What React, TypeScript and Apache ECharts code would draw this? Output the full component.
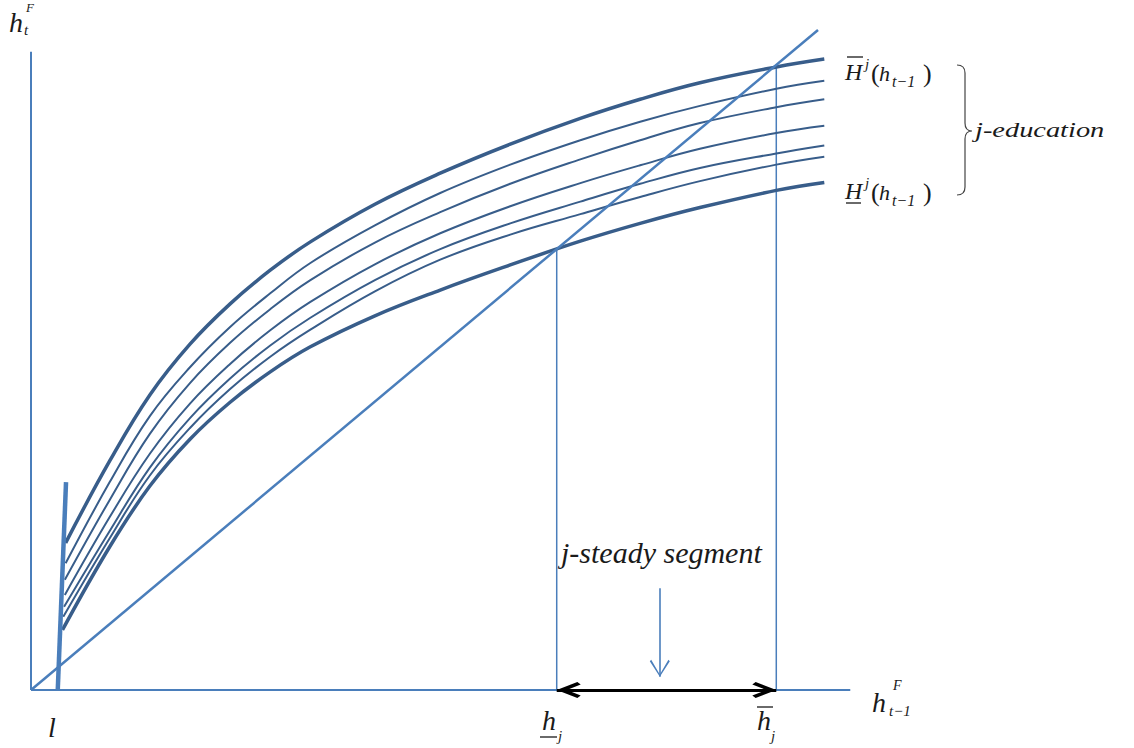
import React, { useEffect, useRef } from "react";
import * as echarts from "echarts";

// ---- data (abstract units; 45° line is y = x) ----
const curveXs = [1.0, 1.51, 2.02, 2.53, 3.04, 3.55, 4.37, 5.2, 6.09, 6.98, 7.74, 8.5, 9.47, 10.08];
const startXs = [0.44, 0.44, 0.43, 0.43, 0.42, 0.41, 0.4];
const startYs = [2.23, 1.92, 1.67, 1.44, 1.26, 1.11, 0.91];
const curveUpper = [3.47, 4.47, 5.24, 5.85, 6.36, 6.79, 7.36, 7.83, 8.27, 8.66, 8.95, 9.2, 9.44, 9.56];
const curve2 = [3.15, 4.15, 4.89, 5.5, 6.01, 6.47, 7.04, 7.53, 7.96, 8.33, 8.61, 8.85, 9.11, 9.23];
const curve3 = [2.88, 3.88, 4.65, 5.26, 5.77, 6.21, 6.78, 7.24, 7.67, 8.04, 8.33, 8.59, 8.83, 8.95];
const curve4 = [2.62, 3.58, 4.34, 4.94, 5.45, 5.88, 6.45, 6.92, 7.33, 7.68, 7.95, 8.2, 8.44, 8.55];
const curve5 = [2.41, 3.37, 4.12, 4.72, 5.22, 5.64, 6.21, 6.68, 7.07, 7.4, 7.67, 7.91, 8.13, 8.25];
const curve6 = [2.3, 3.25, 3.97, 4.56, 5.05, 5.46, 6.04, 6.52, 6.9, 7.21, 7.47, 7.71, 7.96, 8.08];
const curveLower = [2.17, 3.09, 3.8, 4.36, 4.82, 5.2, 5.67, 6.06, 6.44, 6.8, 7.07, 7.31, 7.57, 7.69];
const allCurves = [curveUpper, curve2, curve3, curve4, curve5, curve6, curveLower];

const diagonalEnd = 10;
const yAxisTop = 9.67;
const xAxisEnd = 10.41;
const barrierBottom = [0.34, 0];
const barrierTop = [0.445, 3.15];
const hLow = 6.68; // lower steady state
const hHigh = 9.47; // upper steady state
const hHighY = 9.44;
const pointerX = 7.99;
const pointerFrom = 1.54;
const pointerTo = 0.2;

const LINE_BLUE = "#4a7ebb";
const CURVE_BLUE = "#385d8a";
const INK = "#1a1a1a";
const SERIF = "Liberation Serif, Times New Roman, serif";

const BRACE_D =
  "M0,0 C5,0 8,2 8,8 L8,58 C8,63 10,66 15,66 C10,66 8,69 8,74 L8,122 C8,128 5,130 0,130";
let braceRegistered = false;
function ensureBrace() {
  if (braceRegistered) return;
  const Brace = (echarts.graphic as any).extendPath(BRACE_D, {});
  (echarts.graphic as any).registerShape("brace", Brace);
  braceRegistered = true;
}

function seg(data: number[][], color: string, width: number, z = 2, smooth: any = false) {
  return {
    type: "line",
    data,
    showSymbol: false,
    symbol: "none",
    clip: false,
    silent: true,
    smooth,
    lineStyle: { color, width, cap: "butt" },
    z,
  };
}

function txt(text: string, x: number, base: number, size: number, italic = true, extra: any = {}) {
  return {
    type: "text",
    x,
    y: base - 0.34 * size,
    silent: true,
    style: {
      text,
      font: `${italic ? "italic" : "normal"} ${size}px ${SERIF}`,
      fill: INK,
      align: "left",
      verticalAlign: "middle",
    },
    ...extra,
  };
}

function bar(x1: number, x2: number, y: number) {
  return {
    type: "line",
    silent: true,
    shape: { x1, y1: y, x2, y2: y },
    style: { stroke: INK, lineWidth: 1.3 },
  };
}

const CHEVRON_BOLD = "path://M50,0 L100,86 L85,100 L50,42 L15,100 L0,86 Z";
const CHEVRON_THIN = "path://M50,0 L100,92 L93,100 L50,14 L7,100 L0,92 Z";

export default function App() {
  const ref = useRef<HTMLDivElement>(null);

  useEffect(() => {
    document.body.style.margin = "0";
    ensureBrace();
    const chart = echarts.init(ref.current!, null, { renderer: "svg" });

    const series: any[] = [];
    series.push(seg([[0, 0], [0, yAxisTop]], LINE_BLUE, 2, 1));
    series.push(seg([[0, 0], [xAxisEnd, 0]], LINE_BLUE, 2, 1));
    series.push(seg([[0, 0], [diagonalEnd, diagonalEnd]], LINE_BLUE, 2.5, 3));
    series.push(seg([[hLow, 0], [hLow, hLow]], LINE_BLUE, 1.5, 1));
    series.push(seg([[hHigh, 0], [hHigh, hHighY]], LINE_BLUE, 1.5, 1));
    series.push(seg([barrierBottom, barrierTop], LINE_BLUE, 4.5, 4));
    allCurves.forEach((vals, i) => {
      const thick = i === 0 || i === allCurves.length - 1;
      const data = [[startXs[i], startYs[i]], ...curveXs.map((x, j) => [x, vals[j]])];
      series.push(seg(data, CURVE_BLUE, thick ? 3.5 : 2, 2, 0.4));
    });
    // double arrow (steady segment)
    series.push({
      type: "line",
      data: [],
      silent: true,
      z: 6,
      markLine: {
        silent: true,
        animation: false,
        label: { show: false },
        lineStyle: { color: "#000", width: 3, type: "solid" },
        data: [
          [
            { coord: [hLow, 0], symbol: CHEVRON_BOLD, symbolSize: [16, 24], symbolOffset: [0, 12] },
            { coord: [hHigh, 0], symbol: CHEVRON_BOLD, symbolSize: [16, 24], symbolOffset: [0, 12] },
          ],
        ],
      },
    });
    // pointer arrow
    series.push({
      type: "line",
      data: [],
      silent: true,
      z: 6,
      markLine: {
        silent: true,
        animation: false,
        label: { show: false },
        lineStyle: { color: LINE_BLUE, width: 1.6, type: "solid" },
        data: [
          [
            { coord: [pointerX, pointerFrom], symbol: "none" },
            { coord: [pointerX, pointerTo], symbol: CHEVRON_THIN, symbolSize: [20, 17], symbolOffset: [0, 8.5] },
          ],
        ],
      },
    });

    const graphic: any[] = [
      // y-axis label h_t^F
      txt("h", 9, 32, 28),
      txt("t", 24, 35, 15),
      txt("F", 26, 12, 13),
      // x-axis label h_{t-1}^F
      txt("h", 872, 712, 28),
      txt("t\u22121", 889, 716, 15),
      txt("F", 893, 690, 14),
      // l
      txt("l", 48, 737, 28),
      // underline h_j
      txt("h", 542, 730, 28),
      bar(540, 557, 737),
      txt("j", 558, 741, 15),
      // overline h_j
      txt("h", 757, 730, 28),
      bar(757, 773, 707),
      txt("j", 771, 741, 15),
      // j-steady segment
      txt("j-steady segment", 561, 563, 30),
      // upper H
      txt("H", 845, 80, 24),
      bar(847, 863, 57),
      txt("j", 865, 69, 15),
      txt("(", 871, 82, 26, false),
      txt("h", 879, 81, 22),
      txt("t\u22121", 892, 87, 16),
      txt(")", 923, 82, 26, false),
      // lower H
      txt("H", 845, 199, 24),
      bar(846, 861, 203),
      txt("j", 865, 188, 15),
      txt("(", 871, 201, 26, false),
      txt("h", 879, 200, 22),
      txt("t\u22121", 892, 206, 16),
      txt(")", 923, 201, 26, false),
      // brace + j-education
      {
        type: "brace",
        x: 957,
        y: 65,
        silent: true,
        style: { stroke: "#444", fill: "none", lineWidth: 1.2 },
      },
      txt("j-education", 975, 137, 20, true, { scaleX: 1.42 }),
    ];

    chart.setOption({
      animation: false,
      backgroundColor: "#ffffff",
      grid: { left: 31, top: 30, width: 865.7, height: 660 },
      xAxis: { type: "value", min: 0, max: 11, show: false },
      yAxis: { type: "value", min: 0, max: 10, show: false },
      series,
      graphic,
    });
    return () => chart.dispose();
  }, []);

  return <div ref={ref} style={{ width: 1134, height: 748 }} />;
}
